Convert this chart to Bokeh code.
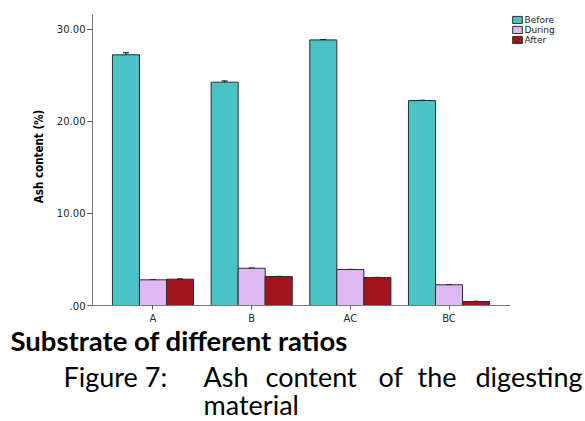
import numpy as np
from bokeh.plotting import figure
from bokeh.models import (Range1d, FixedTicker, Legend, LegendItem, Label,
                          ColumnDataSource, Whisker, TeeHead)
from bokeh.embed import file_html
from bokeh.resources import INLINE

categories = ["A", "B", "AC", "BC"]
series = ["Before", "During", "After"]
before = [27.25, 24.27, 28.87, 22.28]
during = [2.79, 4.05, 3.91, 2.25]
after = [2.86, 3.15, 3.04, 0.43]
err_before = [0.22, 0.14, 0.03, 0.03]
err_during = [0.02, 0.02, 0.02, 0.02]
err_after = [0.03, 0.02, 0.02, 0.03]
colors = ["#4AC3C6", "#DDB8F2", "#A2141D"]
y_ticks = [0, 10, 20, 30]
y_tick_labels = [".00", "10.00", "20.00", "30.00"]
y_title = "Ash content (%)"
caption_bold = "Substrate of different ratios"
fig_words = ["Figure 7:", "Ash", "content", "of", "the", "digesting"]
second_line = "material"

W, H = 585, 421
# plot area (axis extents) in data units
x_lo, x_hi = -0.613, 3.623
y_lo, y_hi = 0.0, 31.63
# pixel geometry of the axes box on the canvas
px_left, px_right, px_top, px_bottom = 92, 510, 14, 305
sx = (px_right - px_left) / (x_hi - x_lo)
sy = (px_bottom - px_top) / (y_hi - y_lo)

p = figure(width=W, height=H, output_backend="svg", toolbar_location=None,
           x_range=Range1d(x_lo - px_left / sx, x_hi + (W - px_right) / sx),
           y_range=Range1d(y_lo - (H - px_bottom) / sy, y_hi + px_top / sy),
           min_border=0, min_border_left=0, min_border_right=0,
           min_border_top=0, min_border_bottom=0)
p.xgrid.visible = False
p.ygrid.visible = False
p.outline_line_color = None

bw = 0.274
xs = np.arange(len(categories))
offsets = [-bw, 0.0, bw]
vals = [before, during, after]
errs = [err_before, err_during, err_after]
items = []
for name, off, v, e, c in zip(series, offsets, vals, errs, colors):
    src = ColumnDataSource(dict(x=xs + off, top=v,
                                upper=np.array(v) + np.array(e),
                                lower=np.array(v) - np.array(e)))
    r = p.vbar(x="x", top="top", width=bw, source=src, fill_color=c,
               line_color="#2b2b2b", line_width=1)
    w = Whisker(base="x", upper="upper", lower="lower", source=src,
                line_color="black", line_width=1,
                upper_head=TeeHead(size=6, line_color="black", line_width=1),
                lower_head=TeeHead(size=6, line_color="black", line_width=1))
    p.add_layout(w)
    items.append(LegendItem(label=name, renderers=[r]))

p.xaxis.fixed_location = y_lo
p.yaxis.fixed_location = x_lo
p.xaxis.bounds = (x_lo, x_hi)
p.yaxis.bounds = (y_lo, y_hi)
p.xaxis.ticker = FixedTicker(ticks=list(range(len(categories))))
p.xaxis.major_label_overrides = {i: c for i, c in enumerate(categories)}
p.yaxis.ticker = FixedTicker(ticks=y_ticks)
p.yaxis.major_label_overrides = {t: l for t, l in zip(y_ticks, y_tick_labels)}
for ax in (p.xaxis, p.yaxis):
    ax.axis_line_color = "#7a7a7a"
    ax.major_tick_line_color = "#555555"
    ax.minor_tick_line_color = None
    ax.major_tick_in = 0
    ax.major_label_text_font = "DejaVu Sans"
    ax.major_label_text_color = "#2a2a2a"
    ax.major_label_text_font_size = "10px"
p.yaxis.major_tick_out = 5
p.yaxis.major_label_standoff = 2
p.xaxis.major_tick_out = 4
p.xaxis.major_label_standoff = 3

# y axis title
p.add_layout(Label(x=38.7, y=H - 156, x_units="screen", y_units="screen",
                   text=y_title, angle=np.pi / 2, text_align="center",
                   text_baseline="middle",
                   text_font="'DejaVu Sans Condensed', 'Liberation Sans'",
                   text_font_style="bold", text_font_size="11.5px",
                   text_color="black"))

legend = Legend(items=items, location=(510.5, H - 44.5), orientation="vertical",
                padding=0, margin=0, spacing=0, glyph_width=12, glyph_height=9,
                label_height=9, label_standoff=2,
                label_text_font="DejaVu Sans", label_text_font_size="9px",
                label_text_line_height=0.9,
                label_text_color="#222222", border_line_color=None,
                background_fill_alpha=0)
p.add_layout(legend)

# caption below the chart
p.add_layout(Label(x=10, y=H - 339.5, x_units="screen", y_units="screen",
                   text=caption_bold, text_font="Lato", text_font_style="bold",
                   text_font_size="27.5px", text_color="black",
                   text_baseline="alphabetic"))
for w_, xw in zip(fig_words, [63, 203, 265, 378, 417, 475]):
    p.add_layout(Label(x=xw, y=H - 375.5, x_units="screen", y_units="screen",
                       text=w_, text_font="Lato", text_font_size="27px",
                       text_color="black", text_baseline="alphabetic"))
p.add_layout(Label(x=203, y=H - 403.5, x_units="screen", y_units="screen",
                   text=second_line, text_font="Lato", text_font_size="27px",
                   text_color="black", text_baseline="alphabetic"))

open("out.html", "w").write(file_html(p, INLINE))
